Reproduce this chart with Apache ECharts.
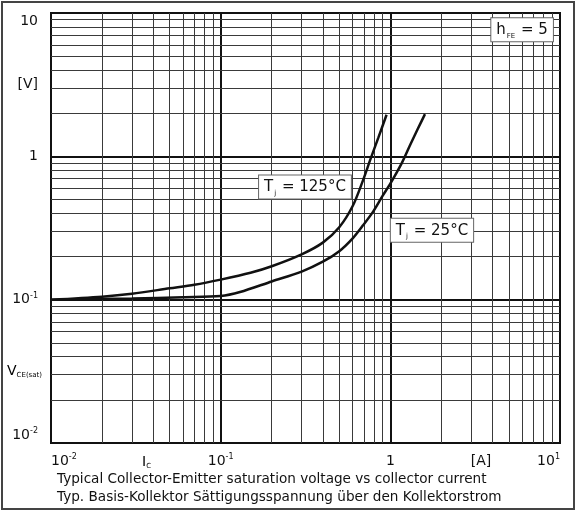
<!DOCTYPE html>
<html><head><meta charset="utf-8">
<script src="https://cdn.jsdelivr.net/npm/echarts@6.0.0/dist/echarts.min.js"></script>
<style>html,body{margin:0;padding:0;background:#fff}#c{width:577px;height:513px}</style>
</head><body><div id="c"></div>
<script>
// ---- data ----
const ic125 = [0.01, 0.02, 0.03, 0.05, 0.07, 0.1, 0.15, 0.2, 0.3, 0.4, 0.5, 0.6, 0.69, 0.76, 0.85, 0.95];
const v125  = [0.100, 0.105, 0.110, 0.120, 0.127, 0.138, 0.154, 0.171, 0.207, 0.25, 0.32, 0.45, 0.68, 0.94, 1.35, 1.95];
const ic25  = [0.01, 0.03, 0.06, 0.1, 0.13, 0.2, 0.3, 0.4, 0.5, 0.6, 0.69, 0.79, 0.9, 1.0, 1.17, 1.3, 1.45, 1.6];
const v25   = [0.100, 0.102, 0.104, 0.106, 0.113, 0.134, 0.157, 0.184, 0.218, 0.268, 0.33, 0.41, 0.53, 0.645, 0.9, 1.18, 1.55, 1.97];
const xDecades = [0.01, 0.1, 1];
const yDecades = [0.01, 0.1, 1];
const minorSteps = [2, 3, 4, 5, 6, 7, 8, 9];
const label125 = 'T|j| = 125°C';
const label25 = 'T|j| = 25°C';
const labelHfe = 'h|FE| = 5';
const anchor125 = [0.314, 0.611];
const anchor25 = [1.76, 0.305];
const anchorHfe = [5.98, 7.64];

const FONT = 'DejaVu Sans';
const chart = echarts.init(document.getElementById('c'), null, {renderer: 'canvas'});

function minorValues(decades) {
  const out = [];
  decades.forEach(d => minorSteps.forEach(m => out.push(+(d * m).toPrecision(6))));
  return out;
}
function expFmt(isY) {
  return function (v) {
    const e = Math.round(Math.log10(v));
    if (e === 0) return '{b|1}';
    if (e === 1 && isY) return '{b|10}';
    return '{b|10}{s|' + e + '}';
  };
}
const tickRich = {
  b: {fontFamily: FONT, fontSize: 14, color: '#111', lineHeight: 16},
  s: {fontFamily: FONT, fontSize: 8, color: '#111', lineHeight: 9, verticalAlign: 'top'}
};
function boxLabel(txt) {
  const p = txt.split('|');
  return '{t|' + p[0] + '}{j|' + p[1] + '}{t|' + p[2] + '}';
}
const boxRich = {
  t: {fontFamily: FONT, fontSize: 15, color: '#111', lineHeight: 18},
  j: {fontFamily: FONT, fontSize: 7, color: '#111', lineHeight: 8, verticalAlign: 'bottom', padding: [0, 1, 0, 1]}
};
function markBox(anchor, txt) {
  return {
    coord: anchor,
    label: {
      show: true, position: 'inside', formatter: boxLabel(txt),
      backgroundColor: '#fff', borderColor: '#666', borderWidth: 1,
      padding: [3, 5, 2, 5], rich: boxRich
    }
  };
}

const axisCommon = {
  type: 'log', logBase: 10, min: 0.01, max: 10,
  axisLine: {show: true, lineStyle: {color: '#111', width: 2}},
  axisTick: {show: false},
  splitLine: {show: true, lineStyle: {color: '#111', width: 2}},
  minorTick: {show: false}, minorSplitLine: {show: false}
};

chart.setOption({
  animation: false,
  backgroundColor: '#fff',
  grid: {left: 51, right: 17, top: 13, bottom: 70, show: true, borderColor: '#111', borderWidth: 2},
  xAxis: Object.assign({}, axisCommon, {
    axisLabel: {formatter: expFmt(false), rich: tickRich, margin: 10, alignMinLabel: 'left', alignMaxLabel: 'right'}
  }),
  yAxis: Object.assign({}, axisCommon, {
    axisLabel: {formatter: expFmt(true), rich: tickRich, margin: 13, verticalAlignMinLabel: 'bottom', verticalAlignMaxLabel: 'top'}
  }),
  series: [
    {
      type: 'line', name: 'grid', data: [], silent: true, z: 1,
      markLine: {
        silent: true, z: 1, symbol: ['none', 'none'], label: {show: false},
        lineStyle: {type: 'solid', color: '#3a3a3a', width: 1},
        emphasis: {disabled: true},
        data: minorValues(xDecades).map(v => ({xAxis: v}))
          .concat(minorValues(yDecades).map(v => ({yAxis: v})))
      }
    },
    {
      type: 'line', name: 'Tj=125', data: ic125.map((x, i) => [x, v125[i]]),
      smooth: 0.3, showSymbol: false, z: 3,
      lineStyle: {color: '#111', width: 2.5},
      markPoint: {symbol: 'rect', symbolSize: 1, itemStyle: {color: 'rgba(0,0,0,0)'}, silent: true,
        data: [markBox(anchor125, label125), markBox(anchorHfe, labelHfe)]}
    },
    {
      type: 'line', name: 'Tj=25', data: ic25.map((x, i) => [x, v25[i]]),
      smooth: 0.3, showSymbol: false, z: 3,
      lineStyle: {color: '#111', width: 2.5},
      markPoint: {symbol: 'rect', symbolSize: 1, itemStyle: {color: 'rgba(0,0,0,0)'}, silent: true,
        data: [markBox(anchor25, label25)]}
    }
  ],
  graphic: [
    {type: 'rect', shape: {x: 2, y: 2, width: 572, height: 507}, style: {fill: 'none', stroke: '#444', lineWidth: 2}, silent: true},
    {type: 'text', x: 38, y: 84, style: {text: '[V]', font: '14px "DejaVu Sans"', fill: '#111', align: 'right', verticalAlign: 'middle'}},
    {type: 'text', x: 7, y: 371, style: {
      text: '{v|V}{s|CE(sat)}', verticalAlign: 'middle',
      rich: {v: {fontFamily: FONT, fontSize: 14, color: '#111', lineHeight: 16},
             s: {fontFamily: FONT, fontSize: 7, color: '#111', lineHeight: 8, verticalAlign: 'bottom'}}}},
    {type: 'text', x: 142, y: 462, style: {
      text: '{v|I}{s|C}', verticalAlign: 'middle',
      rich: {v: {fontFamily: FONT, fontSize: 14, color: '#111', lineHeight: 16},
             s: {fontFamily: FONT, fontSize: 7, color: '#111', lineHeight: 8, verticalAlign: 'bottom'}}}},
    {type: 'text', x: 481, y: 461, style: {text: '[A]', font: '14px "DejaVu Sans"', fill: '#111', align: 'center', verticalAlign: 'middle'}},
    {type: 'text', x: 57, y: 479, style: {text: 'Typical Collector-Emitter saturation voltage vs collector current', font: '13.6px "DejaVu Sans"', fill: '#111', align: 'left', verticalAlign: 'middle'}},
    {type: 'text', x: 57, y: 497, style: {text: 'Typ. Basis-Kollektor Sättigungsspannung über den Kollektorstrom', font: '13.6px "DejaVu Sans"', fill: '#111', align: 'left', verticalAlign: 'middle'}}
  ]
});
</script>
</body></html>
